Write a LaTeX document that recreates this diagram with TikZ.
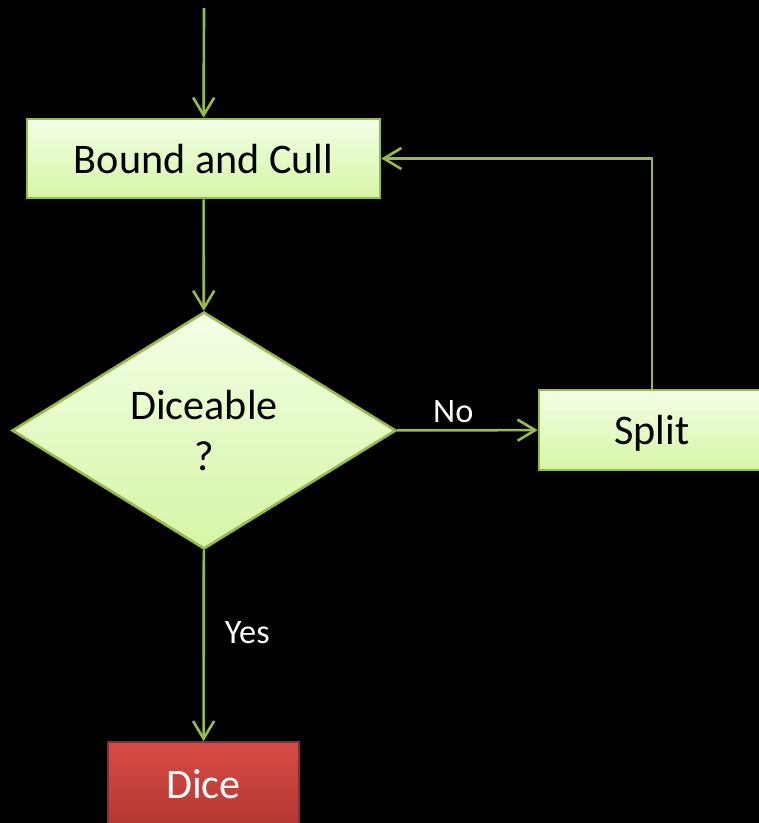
\documentclass[tikz,border=0pt]{standalone}
\usepackage{fontspec}
\setmainfont{Carlito}
\usetikzlibrary{shapes.geometric,arrows.meta}
\definecolor{leaf}{RGB}{150,185,80}
\definecolor{paletop}{RGB}{242,255,230}
\definecolor{palebot}{RGB}{215,245,165}
\definecolor{dicetop}{RGB}{215,75,70}
\definecolor{dicebot}{RGB}{180,55,50}
\definecolor{diceedge}{RGB}{140,45,40}
\tikzset{
  stepbox/.style={rectangle, draw=leaf, line width=1.5pt, top color=paletop, bottom color=palebot,
    font=\fontsize{24}{29}\selectfont, text=black, inner sep=0pt},
  choice/.style={diamond, draw=leaf, line width=1.5pt, top color=paletop, bottom color=palebot,
    font=\fontsize{24}{29}\selectfont, align=center, inner sep=0pt,
    minimum width=7.68cm, minimum height=4.74cm, aspect=1.62},
  endbox/.style={rectangle, draw=diceedge, line width=1pt, top color=dicetop, bottom color=dicebot,
    font=\fontsize{24}{29}\selectfont, text=white, inner sep=0pt},
  flow/.style={draw=leaf, line width=1.5pt, -{Straight Barb[length=10pt,width=12pt,line width=1.5pt]}},
  lbl/.style={text=white, font=\fontsize{19.5}{23}\selectfont}
}
\begin{document}
\begin{tikzpicture}[x=0.02cm, y=-0.02cm]
  \fill[black] (0,0) rectangle (759,823);
  \useasboundingbox (0,0) rectangle (759,823);
  \clip (0,0) rectangle (759,823);

  \coordinate (entry) at (204,8);
  \node[stepbox, minimum width=7.06cm, minimum height=1.58cm, text depth=-2pt] (bound) at (203.5,158.5) {Bound and Cull};
  \node[choice] (dec) at (204,430.5) {Diceable\\?};
  \node[stepbox, minimum width=4.52cm, minimum height=1.6cm, text depth=-2pt] (split) at (652,430) {Split};
  \node[endbox, minimum width=3.82cm, minimum height=1.7cm] (dice) at (203.5,784.5) {Dice};

  \draw[flow] (entry) -- (bound);
  \draw[flow] (bound) -- (dec);
  \draw[flow] (dec) -- node[lbl, above, pos=0.4] {No} (split);
  \draw[flow] (split.north) |- (bound.east);
  \draw[flow] (dec) -- node[lbl, right=8pt, pos=0.43] {Yes} (dice);
\end{tikzpicture}
\end{document}
